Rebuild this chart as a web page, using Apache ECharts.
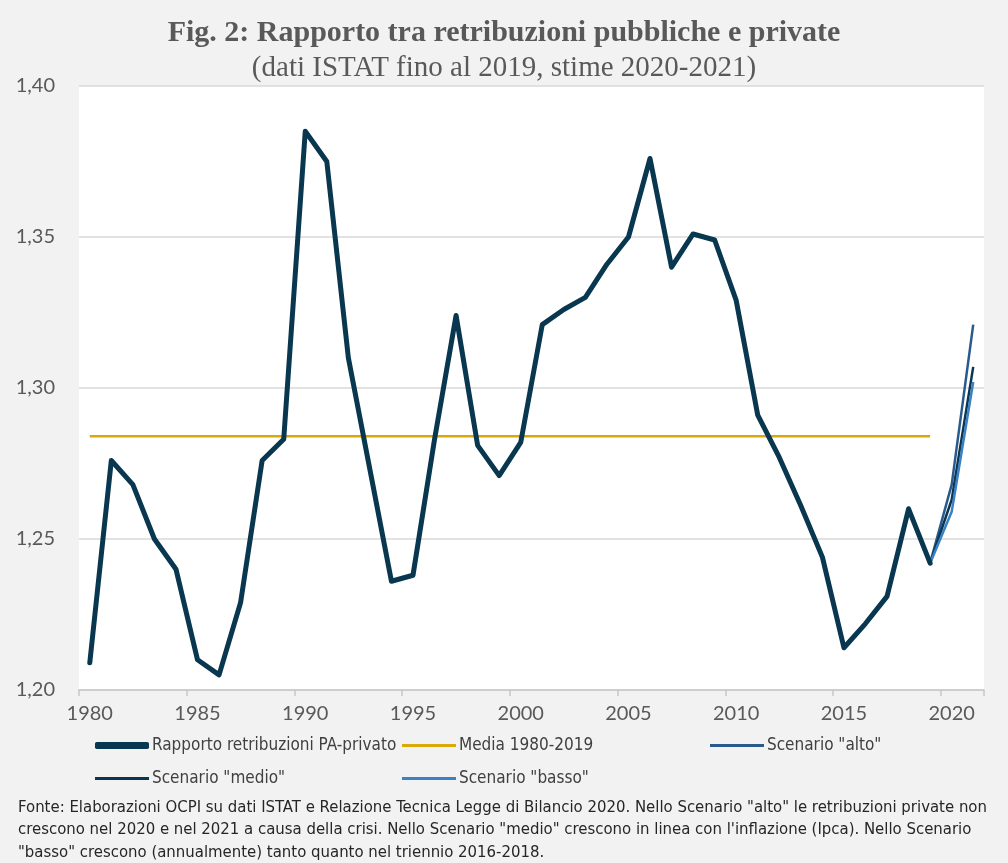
<!DOCTYPE html>
<html>
<head>
<meta charset="utf-8">
<script src="https://cdn.jsdelivr.net/npm/echarts@6/dist/echarts.min.js"></script>
<style>
html,body{margin:0;padding:0;background:#f2f2f2;}
#chart{width:1008px;height:863px;}
</style>
</head>
<body>
<div id="chart"></div>
<script>
// ---- data ----
var years = ['1980','1981','1982','1983','1984','1985','1986','1987','1988','1989',
             '1990','1991','1992','1993','1994','1995','1996','1997','1998','1999',
             '2000','2001','2002','2003','2004','2005','2006','2007','2008','2009',
             '2010','2011','2012','2013','2014','2015','2016','2017','2018','2019',
             '2020','2021'];
// Rapporto retribuzioni PA-privato, 1980-2019
var rapporto = [1.209,1.276,1.268,1.250,1.240,1.210,1.205,1.229,1.276,1.283,
                1.385,1.375,1.310,1.273,1.236,1.238,1.283,1.324,1.281,1.271,
                1.282,1.321,1.326,1.330,1.341,1.350,1.376,1.340,1.351,1.349,
                1.329,1.291,1.277,1.261,1.244,1.214,1.222,1.231,1.260,1.242];
var media = 1.284;            // Media 1980-2019
var mediaYears = ['1980','2019'];
// scenarios 2019-2021
var scenarioYears = ['2019','2020','2021'];
var scenAlto  = [1.242,1.268,1.321];
var scenMedio = [1.242,1.263,1.307];
var scenBasso = [1.242,1.259,1.302];
var yTicks = [1.20,1.25,1.30,1.35,1.40];

var titleText = 'Fig. 2: Rapporto tra retribuzioni pubbliche e private';
var subtitleText = '(dati ISTAT fino al 2019, stime 2020-2021)';
var noteLines = [
 'Fonte: Elaborazioni OCPI su dati ISTAT e Relazione Tecnica Legge di Bilancio 2020. Nello Scenario "alto" le retribuzioni private non',
 'crescono nel 2020 e nel 2021 a causa della crisi. Nello Scenario "medio" crescono in linea con l\'inflazione (Ipca). Nello Scenario',
 '"basso" crescono (annualmente) tanto quanto nel triennio 2016-2018.'
];

// ---- build series data ----
function padTo(yearsArr, vals){
  return years.map(function(y){
    var i = yearsArr.indexOf(y);
    return i >= 0 ? vals[i] : null;
  });
}
var rapportoData = years.map(function(y,i){ return i < rapporto.length ? rapporto[i] : null; });
var i0 = years.indexOf(mediaYears[0]), i1 = years.indexOf(mediaYears[1]);
var mediaData = years.map(function(y,i){ return (i>=i0 && i<=i1) ? media : null; });

var chart = echarts.init(document.getElementById('chart'));
var labelFont = 'Lato, "Open Sans", sans-serif';
var narrow = '"Liberation Sans Narrow", "DejaVu Sans Condensed", sans-serif';

function legendItem(name, left, top, h, icon){
  return {
    data:[name], left:left, top:top, itemWidth:54, itemHeight:h, icon:icon,
    itemGap:0, padding:0,
    textStyle:{color:'#404040', fontSize:17, fontFamily:narrow, padding:[0,0,0,-2]}
  };
}

var option = {
  backgroundColor:'#f2f2f2',
  animation:false,
  title:[
    {text:titleText, left:'center', top:13,
     textStyle:{fontFamily:'"Liberation Serif", "DejaVu Serif", serif', fontWeight:'bold', fontSize:30, color:'#595959'}},
    {text:subtitleText, left:'center', top:49,
     textStyle:{fontFamily:'"Liberation Serif", "DejaVu Serif", serif', fontWeight:'normal', fontSize:29, color:'#595959'}}
  ],
  legend:[
    legendItem('Rapporto retribuzioni PA-privato', 95, 737, 7, 'roundRect'),
    legendItem('Media 1980-2019', 402, 737, 3, 'rect'),
    legendItem('Scenario "alto"', 710, 737, 3, 'rect'),
    legendItem('Scenario "medio"', 95, 770, 3, 'rect'),
    legendItem('Scenario "basso"', 402, 770, 3, 'rect')
  ],
  grid:{left:79, right:24, top:86, bottom:173, show:true, backgroundColor:'#ffffff', borderWidth:0},
  xAxis:{
    type:'category', data:years, boundaryGap:true,
    axisLine:{show:true, lineStyle:{color:'#c8c8c8', width:1.5}},
    axisTick:{show:true, interval:4, length:6, alignWithLabel:false, lineStyle:{color:'#c8c8c8', width:1.5}},
    axisLabel:{interval:4, margin:14, color:'#595959', fontSize:20, fontFamily:labelFont},
    splitLine:{show:false}
  },
  yAxis:{
    type:'value', min:yTicks[0], max:yTicks[yTicks.length-1], interval:0.05,
    axisLine:{show:false}, axisTick:{show:false},
    axisLabel:{margin:24, color:'#595959', fontSize:20, fontFamily:labelFont,
      formatter:function(v){ return v.toFixed(2).replace('.', ','); }},
    splitLine:{lineStyle:{color:'#d9d9d9', width:1.5}}
  },
  series:[
    {name:'Rapporto retribuzioni PA-privato', type:'line', data:rapportoData, symbol:'none',
     lineStyle:{color:'#08374f', width:5, cap:'round', join:'round'}, itemStyle:{color:'#08374f'}, z:5},
    {name:'Media 1980-2019', type:'line', data:mediaData, symbol:'none',
     lineStyle:{color:'#d9a90a', width:2.5}, itemStyle:{color:'#d9a90a'}, z:3},
    {name:'Scenario "alto"', type:'line', data:padTo(scenarioYears, scenAlto), symbol:'none',
     lineStyle:{color:'#2a5a8c', width:2.5}, itemStyle:{color:'#2a5a8c'}, z:4},
    {name:'Scenario "medio"', type:'line', data:padTo(scenarioYears, scenMedio), symbol:'none',
     lineStyle:{color:'#0b3650', width:2.5}, itemStyle:{color:'#0b3650'}, z:4},
    {name:'Scenario "basso"', type:'line', data:padTo(scenarioYears, scenBasso), symbol:'none',
     lineStyle:{color:'#3a82c4', width:2.5}, itemStyle:{color:'#3a82c4'}, z:4}
  ],
  graphic: noteLines.map(function(t, i){
    return {type:'text', left:18, top:799 + i*22.5,
      style:{text:t, fill:'#262626', font:'16.6px ' + narrow}};
  })
};
chart.setOption(option);
</script>
</body>
</html>
